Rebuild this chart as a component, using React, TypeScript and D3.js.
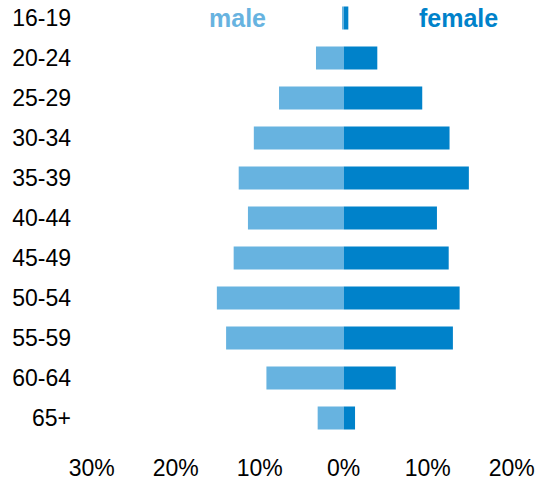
import { useEffect, useRef } from "react"
import * as d3 from "d3"

const ageGroups = ["16-19", "20-24", "25-29", "30-34", "35-39", "40-44", "45-49", "50-54", "55-59", "60-64", "65+"]
const maleShare = [0.2, 3.3, 7.7, 10.7, 12.5, 11.4, 13.1, 15.1, 14.0, 9.2, 3.1]
const femaleShare = [0.55, 4.0, 9.35, 12.6, 14.9, 11.1, 12.5, 13.8, 13.0, 6.2, 1.35]
const tickValues = [-30, -20, -10, 0, 10, 20]

export default function App() {
  const svgRef = useRef<SVGSVGElement>(null)

  useEffect(() => {
    if (!svgRef.current) return
    d3.select(svgRef.current).selectAll("*").remove()

    const width = 537
    const height = 480
    const font = "'Liberation Sans', Arial, sans-serif"
    const maleColor = "#67b3e0"
    const femaleColor = "#0082ca"

    const svg = d3.select(svgRef.current).attr("width", width).attr("height", height)

    // x: percent, males to the left of zero
    const x = d3.scaleLinear().domain([-30, 20]).range([91.7, 511.7])
    const y = d3
      .scaleBand<string>()
      .domain(ageGroups)
      .range([-2, 438])
      .paddingInner(0.425)
      .paddingOuter(0.2125)

    const rows = ageGroups.map((age, i) => ({ age, male: maleShare[i], female: femaleShare[i] }))

    // male bars
    svg
      .append("g")
      .selectAll("rect")
      .data(rows)
      .enter()
      .append("rect")
      .attr("x", (d) => x(-d.male))
      .attr("y", (d) => y(d.age) as number)
      .attr("width", (d) => x(0) - x(-d.male))
      .attr("height", y.bandwidth())
      .attr("fill", maleColor)

    // female bars
    svg
      .append("g")
      .selectAll("rect")
      .data(rows)
      .enter()
      .append("rect")
      .attr("x", x(0))
      .attr("y", (d) => y(d.age) as number)
      .attr("width", (d) => x(d.female) - x(0))
      .attr("height", y.bandwidth())
      .attr("fill", femaleColor)

    // age labels
    svg
      .append("g")
      .selectAll("text")
      .data(ageGroups)
      .enter()
      .append("text")
      .attr("x", 71)
      .attr("y", (d) => (y(d) as number) + y.bandwidth() / 2)
      .attr("dy", "0.33em")
      .attr("text-anchor", "end")
      .attr("font-family", font)
      .attr("font-size", 23)
      .attr("fill", "#000")
      .text((d) => d)

    // x tick labels
    svg
      .append("g")
      .selectAll("text")
      .data(tickValues)
      .enter()
      .append("text")
      .attr("x", (d) => x(d))
      .attr("y", 476)
      .attr("text-anchor", "middle")
      .attr("font-family", font)
      .attr("font-size", 23)
      .attr("fill", "#000")
      .text((d) => `${Math.abs(d)}%`)

    // legend labels
    svg
      .append("text")
      .attr("x", 209)
      .attr("y", 27)
      .attr("font-family", font)
      .attr("font-size", 25)
      .attr("font-weight", "bold")
      .attr("fill", maleColor)
      .text("male")

    svg
      .append("text")
      .attr("x", 419)
      .attr("y", 27)
      .attr("font-family", font)
      .attr("font-size", 25)
      .attr("font-weight", "bold")
      .attr("fill", femaleColor)
      .text("female")
  }, [])

  return (
    <div style={{ position: "absolute", left: 0, top: 0 }}>
      <svg ref={svgRef} style={{ display: "block" }} />
    </div>
  )
}
